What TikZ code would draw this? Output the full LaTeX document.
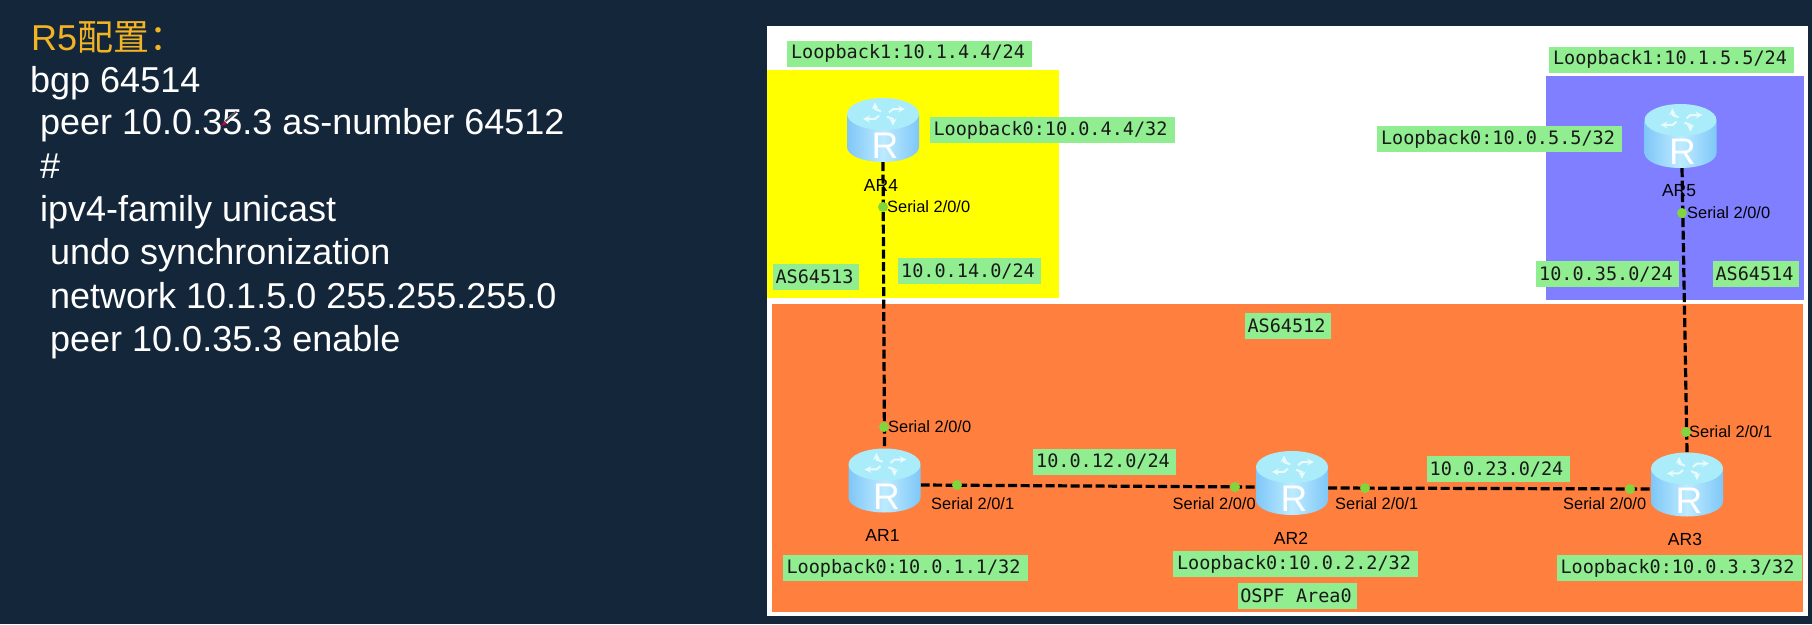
\documentclass[tikz,border=0pt]{standalone}
\usepackage{fontspec}
\setmainfont{Liberation Sans}
\newfontfamily\cjkfont{Noto Sans CJK SC}
\newfontfamily\tagfont{DejaVu Sans Mono}
\definecolor{bgnavy}{HTML}{14263A}
\definecolor{titlegold}{HTML}{F2B324}
\definecolor{taggreen}{HTML}{90EE90}
\definecolor{dotgreen}{HTML}{80D63C}
\definecolor{asorange}{HTML}{FF7F3F}
\definecolor{aspurple}{HTML}{7F7FFF}
\definecolor{asyellow}{HTML}{FFFF00}
\definecolor{topcyan}{HTML}{ABECFB}
\definecolor{sideblue}{HTML}{7FC7F8}
\definecolor{sidelight}{HTML}{BDEBFF}
\tikzset{
  cfgline/.style={anchor=base west,inner sep=0,text=white,font=\fontsize{36}{40}\selectfont},
  titleline/.style={anchor=base west,inner sep=0,text=titlegold,font=\fontsize{36}{40}\selectfont},
  tagbox/.style={fill=taggreen,inner sep=0,minimum height=26,text=black!90,font=\tagfont\fontsize{18.5}{20}\selectfont},
  routerbox/.style={inner sep=0,minimum width=72,minimum height=64},
  portdot/.style={circle,fill=dotgreen,inner sep=0,minimum size=10},
  portlabel/.style={anchor=west,inner sep=0,text=black,font=\fontsize{16.4}{18}\selectfont},
  routername/.style={inner sep=0,text=black,font=\fontsize{17.5}{20}\selectfont},
  linkline/.style={draw=black,line width=3.2,dash pattern=on 9 off 3.5},
}
\newcommand{\routerart}[1]{%
  \begin{scope}[shift={(#1.center)}]
    \path[left color=sideblue,right color=sideblue,middle color=sidelight]
      (-36,-15) -- (-36,17) .. controls (-36,25.5) and (-20,32) .. (0,32)
      .. controls (20,32) and (36,25.5) .. (36,17) -- (36,-15) -- cycle;
    \fill[topcyan] (0,-16) ellipse [x radius=36,y radius=16];
    \foreach \ang in {0,90,180,270}{
      \begin{scope}[shift={(1,-16)},yscale=.55,rotate=\ang]
        \draw[white,opacity=.75,line width=2,-stealth] (5,-3) -- (9,-9) -- (21,-9);
      \end{scope}
    }
    \node[inner sep=0,text=white,font=\fontsize{37}{38}\selectfont] (#1letter) at (2,16) {R};
  \end{scope}%
}
\begin{document}
\begin{tikzpicture}[x=1pt,y=-1pt]
\useasboundingbox (0,0) rectangle (1812,624);
\fill[bgnavy] (0,0) rectangle (1812,624);
% panel and AS regions
\fill[white] (767,26) rectangle (1808,616);
\fill[asyellow] (767,70) rectangle (1059,298);
\fill[aspurple] (1546,76) rectangle (1804,300);
\fill[asorange] (772,304) rectangle (1803,612);
% config text
\node[titleline] (cfg0) at (31,50) {R5{\cjkfont 配置：}};
\node[cfgline] (cfg1) at (30,92) {bgp 64514};
\node[cfgline] (cfg2) at (40,134) {peer 10.0.35.3 as-number 64512};
\node[cfgline] (cfg3) at (40,178) {\#};
\node[cfgline] (cfg4) at (40,221) {ipv4-family unicast};
\node[cfgline] (cfg5) at (50,264) {undo synchronization};
\node[cfgline] (cfg6) at (50,308) {network 10.1.5.0 255.255.255.0};
\node[cfgline] (cfg7) at (50,351) {peer 10.0.35.3 enable};
% pen cursor
\fill[white] (236,111) -- (238,114) -- (227,124) -- (224,121) -- cycle;
\fill[black!70] (236,111) -- (237,112.5) -- (226,122) -- (225,120.5) -- cycle;
\fill[purple] (224,121) -- (227,124) -- (221,126) -- cycle;
% routers
\node[routerbox] (r4) at (883,130) {};
\node[routerbox] (r5) at (1680.5,136) {};
\node[routerbox] (r1) at (884.5,480.5) {};
\node[routerbox] (r2) at (1292,483) {};
\node[routerbox] (r3) at (1687,484.5) {};
% links
\path[linkline] (r4.south) -- (r1.north);
\path[linkline] ([xshift=1.5]r5.south) -- (r3.north);
\path[linkline] ([yshift=-4.5]r1.east) -- ([yshift=-4]r2.west);
\path[linkline] ([yshift=-5]r2.east) -- ([yshift=-4.5]r3.west);
\routerart{r4}
\routerart{r5}
\routerart{r1}
\routerart{r2}
\routerart{r3}
% router names
\node[routername] (n4) at (881,185) {AR4};
\node[routername] (n5) at (1679,191) {AR5};
\node[routername] (n1) at (882.5,535) {AR1};
\node[routername] (n2) at (1291,538) {AR2};
\node[routername] (n3) at (1685,539) {AR3};
% ports
\node[portdot] (p4) at (883,207) {};
\node[portdot] (p5) at (1682,213) {};
\node[portdot] (p1a) at (884,427) {};
\node[portdot] (p1b) at (957,485) {};
\node[portdot] (p2a) at (1235,487) {};
\node[portdot] (p2b) at (1365,488) {};
\node[portdot] (p3a) at (1630,489) {};
\node[portdot] (p3b) at (1686,432) {};
\node[portlabel] (s4) at (887,207) {Serial 2/0/0};
\node[portlabel] (s5) at (1687,213) {Serial 2/0/0};
\node[portlabel] (s1a) at (888,427) {Serial 2/0/0};
\node[portlabel] (s1b) at (931,504) {Serial 2/0/1};
\node[portlabel] (s2a) at (1172.5,504) {Serial 2/0/0};
\node[portlabel] (s2b) at (1335,504) {Serial 2/0/1};
\node[portlabel] (s3a) at (1563,504) {Serial 2/0/0};
\node[portlabel] (s3b) at (1689,432) {Serial 2/0/1};
% green tags
\node[tagbox,minimum width=245] (t1) at (909.5,53.5) {\hspace{-3pt}Loopback1:10.1.4.4/24};
\node[tagbox,minimum width=245] (t2) at (1052,130) {\hspace{-3pt}Loopback0:10.0.4.4/32};
\node[tagbox,minimum width=86] (t3) at (816,276.5) {\hspace{-3pt}AS64513};
\node[tagbox,minimum width=143] (t4) at (969.5,271) {\hspace{-3pt}10.0.14.0/24};
\node[tagbox,minimum width=245] (t5) at (1671.5,59.5) {\hspace{-3pt}Loopback1:10.1.5.5/24};
\node[tagbox,minimum width=245] (t6) at (1499.5,139) {\hspace{-3pt}Loopback0:10.0.5.5/32};
\node[tagbox,minimum width=143] (t7) at (1607.5,274) {\hspace{-3pt}10.0.35.0/24};
\node[tagbox,minimum width=86] (t8) at (1756,274) {\hspace{-3pt}AS64514};
\node[tagbox,minimum width=86] (t9) at (1288,326) {\hspace{-3pt}AS64512};
\node[tagbox,minimum width=143] (t10) at (1104.5,461.5) {\hspace{-3pt}10.0.12.0/24};
\node[tagbox,minimum width=143] (t11) at (1498,469) {\hspace{-3pt}10.0.23.0/24};
\node[tagbox,minimum width=245] (t12) at (905,568) {\hspace{-3pt}Loopback0:10.0.1.1/32};
\node[tagbox,minimum width=245] (t13) at (1295.5,564) {\hspace{-3pt}Loopback0:10.0.2.2/32};
\node[tagbox,minimum width=119] (t14) at (1297.5,595.5) {\hspace{-3pt}OSPF Area0};
\node[tagbox,minimum width=245] (t15) at (1679,568) {\hspace{-3pt}Loopback0:10.0.3.3/32};
\end{tikzpicture}
\end{document}
